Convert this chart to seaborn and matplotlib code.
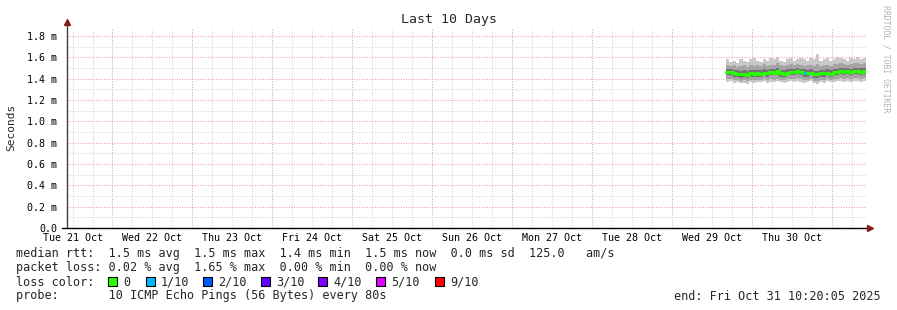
import numpy as np
import pandas as pd
import matplotlib
matplotlib.use("Agg")
import matplotlib.pyplot as plt
import matplotlib.dates as mdates
from matplotlib.ticker import MultipleLocator, NullFormatter
from matplotlib.patches import Rectangle
import seaborn as sns

# ---------------- data ----------------
end_time = pd.Timestamp("2025-10-31 10:20:05")
start_time = end_time - pd.Timedelta(days=10)
times = pd.date_range(end="2025-10-31 10:20", periods=43, freq="h")

median_ms = [1.462, 1.458, 1.455, 1.448, 1.440, 1.445, 1.438, 1.450, 1.444, 1.452, 1.448,
             1.455, 1.452, 1.458, 1.455, 1.470, 1.452, 1.448, 1.455, 1.460, 1.462, 1.468,
             1.458, 1.455, 1.450, 1.455, 1.442, 1.440, 1.450, 1.452, 1.455, 1.448, 1.458,
             1.462, 1.468, 1.465, 1.470, 1.462, 1.468, 1.472, 1.465, 1.470, 1.468]
loss_count = [0] * 23 + [1] + [0] * 19

ping_max = [1.58, 1.56, 1.57, 1.55, 1.58, 1.57, 1.56, 1.58, 1.59, 1.57, 1.56, 1.58, 1.57, 1.59,
            1.58, 1.60, 1.57, 1.56, 1.58, 1.59, 1.57, 1.58, 1.59, 1.58, 1.57, 1.59, 1.58, 1.63,
            1.57, 1.58, 1.59, 1.57, 1.58, 1.60, 1.59, 1.58, 1.57, 1.59, 1.58, 1.60, 1.58, 1.59, 1.64]
ping_hi2 = [1.53, 1.52, 1.53, 1.51, 1.52, 1.53, 1.51, 1.53, 1.52, 1.53, 1.52, 1.54, 1.52, 1.53,
            1.53, 1.55, 1.53, 1.52, 1.53, 1.54, 1.53, 1.54, 1.53, 1.52, 1.53, 1.53, 1.52, 1.54,
            1.52, 1.53, 1.53, 1.52, 1.54, 1.54, 1.55, 1.54, 1.53, 1.54, 1.55, 1.55, 1.54, 1.55, 1.56]
ping_hi3 = [1.49, 1.49, 1.48, 1.48, 1.47, 1.48, 1.47, 1.48, 1.48, 1.48, 1.48, 1.49, 1.48, 1.49,
            1.49, 1.50, 1.48, 1.48, 1.49, 1.49, 1.49, 1.50, 1.49, 1.49, 1.48, 1.49, 1.47, 1.47,
            1.48, 1.48, 1.49, 1.48, 1.49, 1.49, 1.50, 1.50, 1.50, 1.49, 1.50, 1.50, 1.50, 1.50, 1.50]
ping_lo3 = [1.43, 1.43, 1.42, 1.42, 1.41, 1.42, 1.41, 1.42, 1.42, 1.42, 1.42, 1.43, 1.42, 1.43,
            1.43, 1.43, 1.42, 1.42, 1.43, 1.43, 1.43, 1.44, 1.43, 1.42, 1.42, 1.43, 1.41, 1.41,
            1.42, 1.42, 1.43, 1.42, 1.43, 1.43, 1.44, 1.43, 1.44, 1.43, 1.44, 1.44, 1.43, 1.44, 1.44]
ping_lo2 = [1.40, 1.40, 1.39, 1.39, 1.38, 1.39, 1.38, 1.39, 1.39, 1.39, 1.39, 1.40, 1.39, 1.40,
            1.39, 1.40, 1.39, 1.39, 1.40, 1.40, 1.40, 1.41, 1.40, 1.39, 1.39, 1.40, 1.38, 1.38,
            1.39, 1.39, 1.40, 1.39, 1.40, 1.40, 1.41, 1.40, 1.41, 1.40, 1.41, 1.41, 1.40, 1.41, 1.41]
ping_min = [1.37, 1.38, 1.36, 1.37, 1.36, 1.36, 1.35, 1.37, 1.36, 1.37, 1.37, 1.38, 1.36, 1.37,
            1.37, 1.38, 1.37, 1.36, 1.37, 1.38, 1.37, 1.38, 1.37, 1.36, 1.37, 1.38, 1.36, 1.35,
            1.37, 1.36, 1.38, 1.37, 1.37, 1.38, 1.38, 1.37, 1.38, 1.37, 1.38, 1.38, 1.37, 1.38, 1.38]

day_labels = ["Tue 21 Oct", "Wed 22 Oct", "Thu 23 Oct", "Fri 24 Oct", "Sat 25 Oct",
              "Sun 26 Oct", "Mon 27 Oct", "Tue 28 Oct", "Wed 29 Oct", "Thu 30 Oct"]
label_noons = pd.date_range("2025-10-21 12:00", periods=10, freq="D")
y_ticks = [0.0, 0.2, 0.4, 0.6, 0.8, 1.0, 1.2, 1.4, 1.6, 1.8]
y_tick_labels = ["0.0", "0.2 m", "0.4 m", "0.6 m", "0.8 m", "1.0 m", "1.2 m", "1.4 m", "1.6 m", "1.8 m"]

loss_names = ["0", "1/10", "2/10", "3/10", "4/10", "5/10", "9/10"]
loss_colors = ["#26ff00", "#00b8ff", "#0059ff", "#5e00ff", "#7e00ff", "#dd00ff", "#ff0000"]

# ---------------- style ----------------
sns.set_style("white")
plt.rcParams["font.family"] = ["DejaVu Sans Mono"]

W, H = 897, 310
fig = plt.figure(figsize=(W / 100, H / 100), dpi=100)
fig.patch.set_facecolor("white")
ax = fig.add_axes([67 / W, 1 - 228 / H, (866 - 67) / W, 200 / H])

# smoke
ax.fill_between(times, ping_min, ping_max, step="post", color="#c8c8c8", lw=0)
ax.fill_between(times, ping_lo2, ping_hi2, step="post", color="#a4a4a4", lw=0)
ax.fill_between(times, ping_lo3, ping_hi3, step="post", color="#747474", lw=0)

# median line
df = pd.DataFrame({"time": times, "median": median_ms})
sns.lineplot(data=df, x="time", y="median", ax=ax, color=loss_colors[0], lw=2.2,
             drawstyle="steps-post", estimator=None)
for i, l in enumerate(loss_count):
    if l > 0 and i + 1 < len(times):
        ax.hlines(median_ms[i], times[i], times[i + 1], color=loss_colors[l], lw=2.2, zorder=5)

ax.set_xlim(start_time, end_time)
ax.set_ylim(0, 1.875)
ax.set_xlabel("")
ax.set_ylabel("")

# grids / ticks
ax.xaxis.set_major_locator(mdates.DayLocator())
ax.xaxis.set_minor_locator(mdates.HourLocator(byhour=[0, 6, 12, 18]))
ax.xaxis.set_major_formatter(NullFormatter())
ax.xaxis.set_minor_formatter(NullFormatter())
ax.set_yticks(y_ticks)
ax.set_yticklabels(y_tick_labels)
ax.yaxis.set_minor_locator(MultipleLocator(0.1))
ax.grid(which="minor", color="#d4d4d4", ls=(0, (1, 1.5)), lw=0.75)
ax.grid(which="major", color="#eaa0a0", ls=(0, (1, 1.5)), lw=0.75)
ax.set_axisbelow(True)
for s in ax.spines.values():
    s.set_visible(False)
ax.tick_params(axis="y", which="major", length=3, color="#999999", labelsize=7.2, pad=4,
               labelcolor="#000000")
ax.tick_params(axis="y", which="minor", length=2, color="#bbbbbb")
ax.tick_params(axis="x", which="major", length=2, color="#d06060", direction="inout")
ax.tick_params(axis="x", which="minor", length=1.5, color="#aaaaaa", direction="inout")

for lab, t in zip(day_labels, label_noons):
    ax.text(mdates.date2num(t), -0.025, lab, transform=ax.get_xaxis_transform(),
            ha="center", va="top", fontsize=7.2, color="black")

# axis lines + arrows
ax.plot([0, 0], [0, 1.03], transform=ax.transAxes, color="#404040", lw=1, clip_on=False, zorder=6)
ax.plot([-0.006, 1.004], [0, 0], transform=ax.transAxes, color="black", lw=1, clip_on=False, zorder=6)
ax.plot([0], [1.03], transform=ax.transAxes, marker="^", ms=4, color="#8b1a1a", clip_on=False, zorder=7)
ax.plot([1.005], [0], transform=ax.transAxes, marker=">", ms=4, color="#8b1a1a", clip_on=False, zorder=7)

# texts
fig.text(0.5, 1 - 19 / H, "Last 10 Days", ha="center", va="center", fontsize=9.5)
fig.text(11 / W, 1 - 127 / H, "Seconds", rotation=90, ha="center", va="center", fontsize=8)
fig.text(886 / W, 1 - 59 / H, "RRDTOOL / TOBI OETIKER", rotation=270, ha="center", va="center",
         fontsize=5.9, color="#b4b4b4")

LF = 8.45
fig.text(16 / W, 1 - 254 / H,
         "median rtt:  1.5 ms avg  1.5 ms max  1.4 ms min  1.5 ms now  0.0 ms sd  125.0   am/s",
         ha="left", va="center", fontsize=LF)
fig.text(16 / W, 1 - 268 / H,
         "packet loss: 0.02 % avg  1.65 % max  0.00 % min  0.00 % now",
         ha="left", va="center", fontsize=LF)
fig.text(16 / W, 1 - 282 / H, "loss color:", ha="left", va="center", fontsize=LF)
box_x = [108, 146, 203, 261, 318, 376, 435]
for bx, name, col in zip(box_x, loss_names, loss_colors):
    fig.patches.append(Rectangle((bx / W, 1 - 286 / H), 9 / W, 9 / H, transform=fig.transFigure,
                                 facecolor=col, edgecolor="black", lw=0.8, figure=fig))
    fig.text((bx + 15) / W, 1 - 282 / H, name, ha="left", va="center", fontsize=LF)
fig.text(16 / W, 1 - 296 / H, "probe:       10 ICMP Echo Pings (56 Bytes) every 80s",
         ha="left", va="center", fontsize=LF)
fig.text(881 / W, 1 - 296 / H, "end: Fri Oct 31 10:20:05 2025", ha="right", va="center", fontsize=LF)

fig.savefig("out.png", dpi=100, facecolor="white")
